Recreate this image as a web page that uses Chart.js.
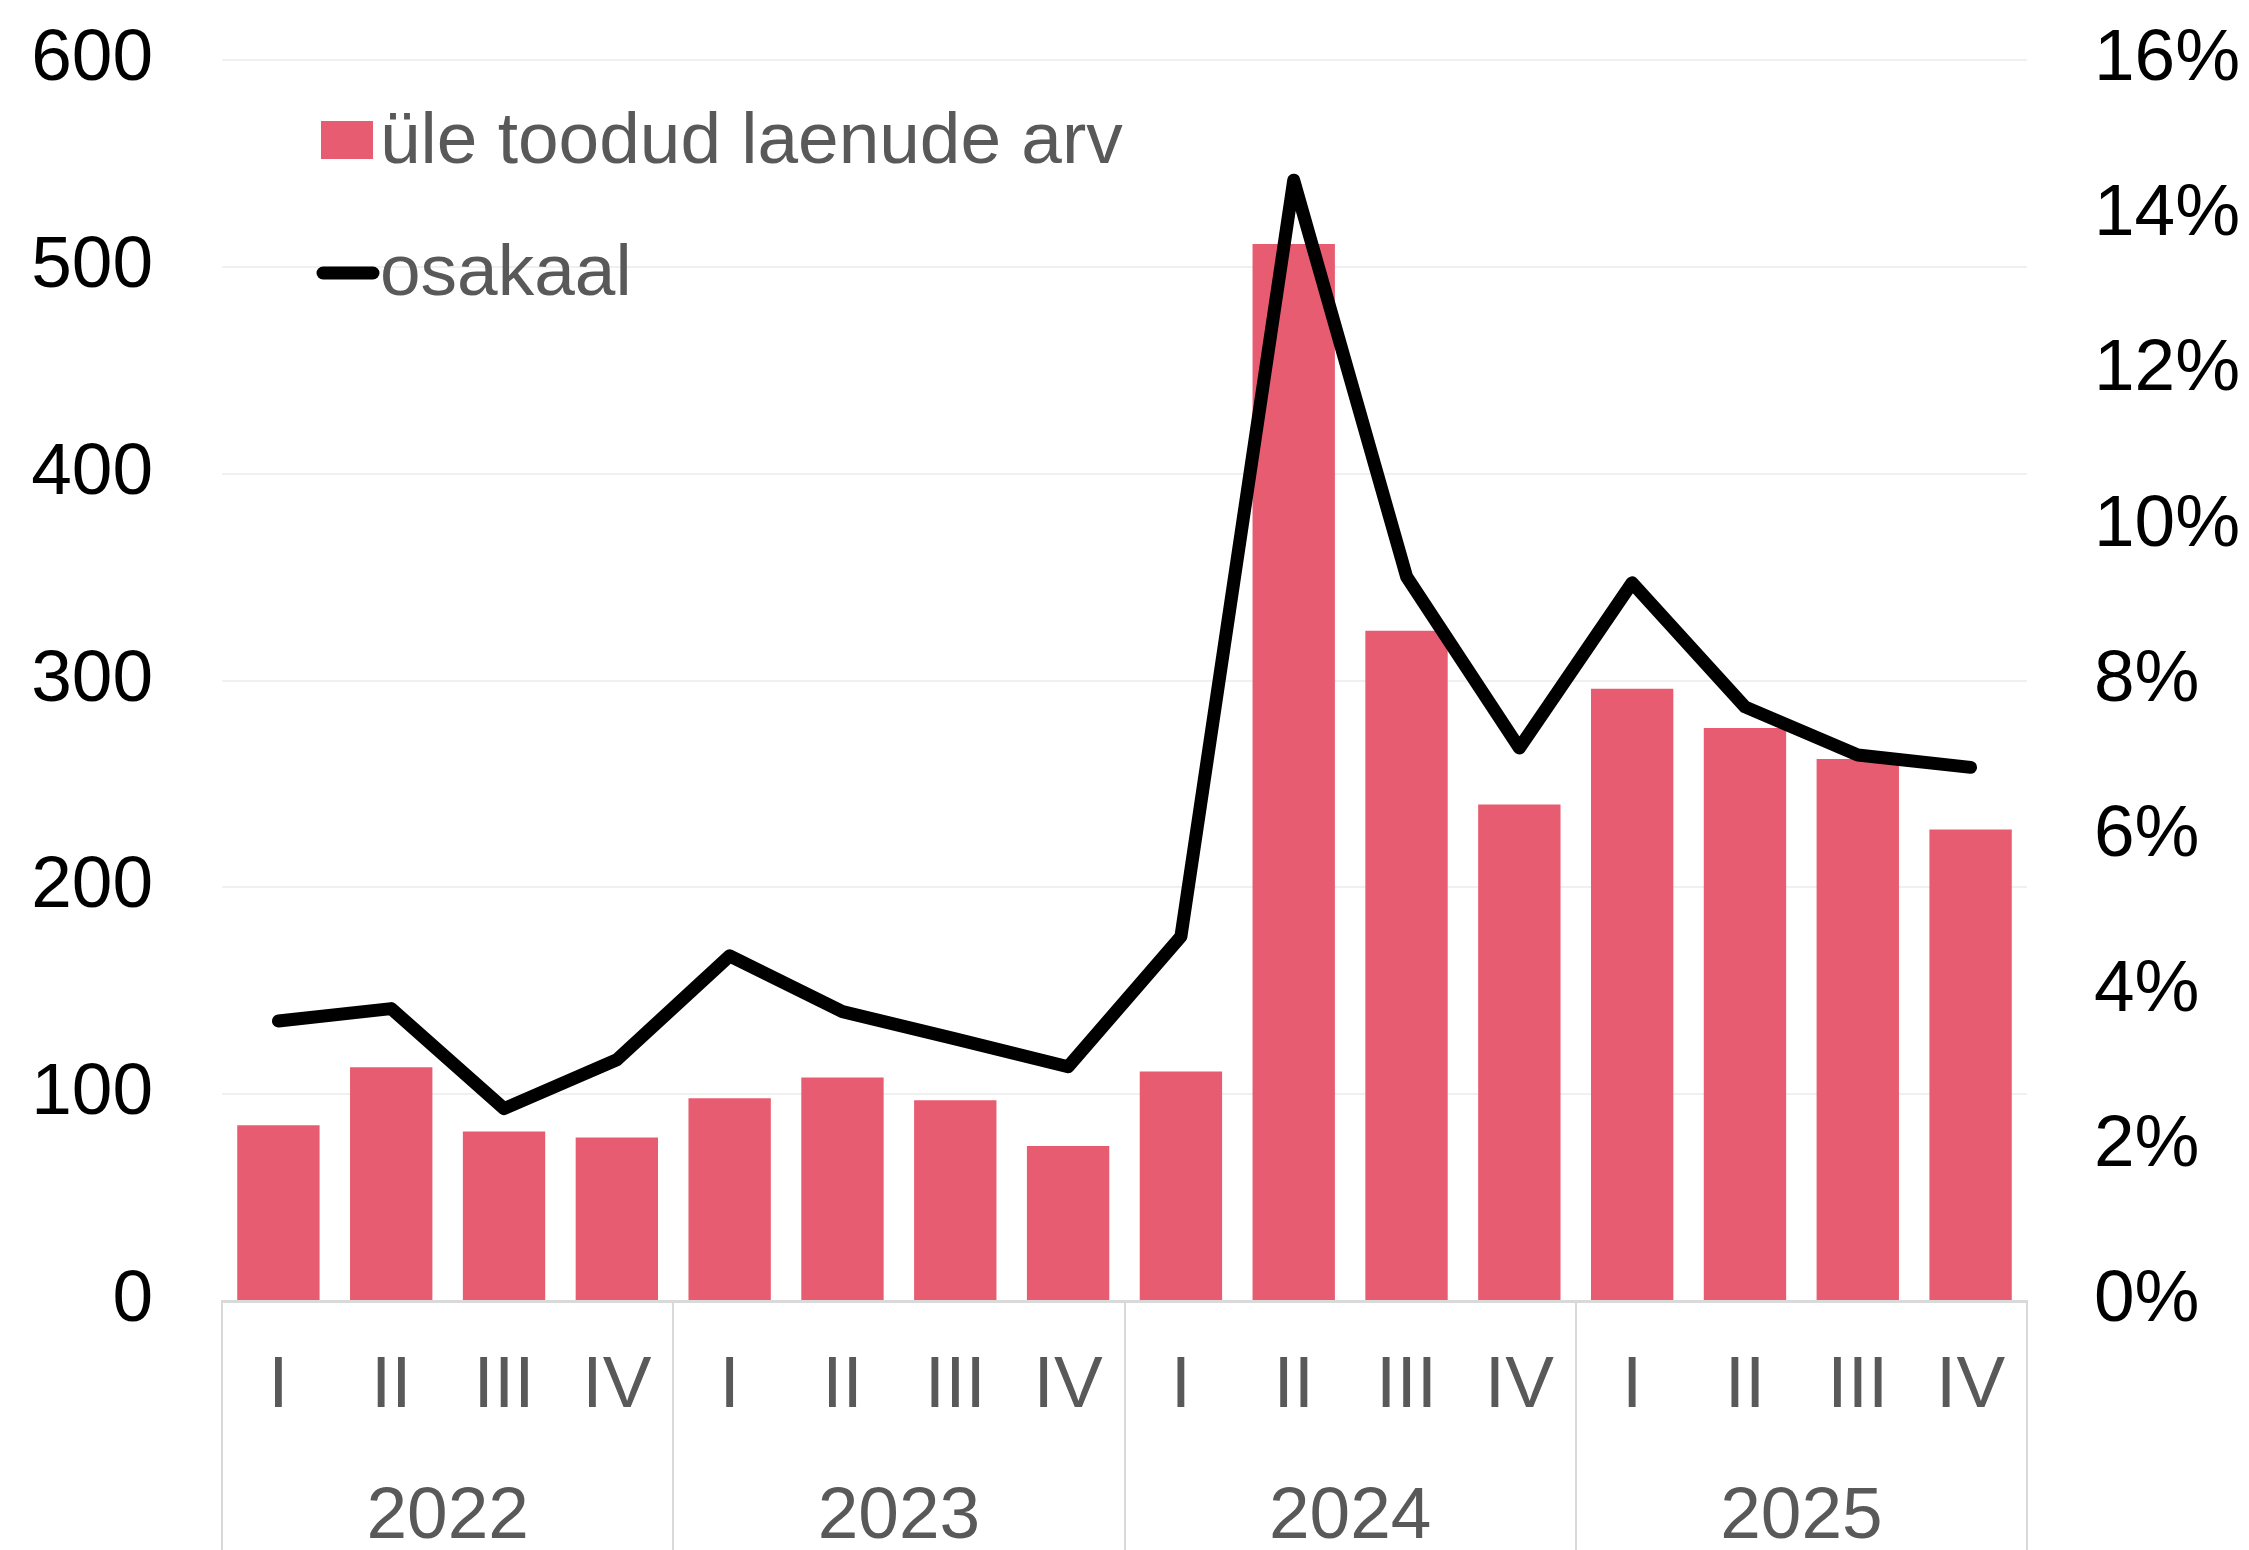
<!DOCTYPE html>
<html>
<head>
<meta charset="utf-8">
<script src="https://cdn.jsdelivr.net/npm/chart.js@4.4.1/dist/chart.umd.min.js"></script>
<style>
  html, body { margin: 0; padding: 0; background: #ffffff; }
  #wrap { width: 2249px; height: 1550px; }
</style>
</head>
<body>
<div id="wrap"><canvas id="c" width="2249" height="1550"></canvas></div>
<script>
// ---- data ----
const quarters = ['I','II','III','IV','I','II','III','IV','I','II','III','IV','I','II','III','IV'];
const years = ['2022','2023','2024','2025'];
const loanCounts = [85, 113, 82, 79, 98, 108, 97, 75, 111, 511, 324, 240, 296, 277, 262, 228];
const sharePct = [3.61, 3.77, 2.48, 3.11, 4.45, 3.73, 3.38, 3.02, 4.70, 14.45, 9.34, 7.13, 9.26, 7.66, 7.04, 6.88];
const leftTicks = { min: 0, max: 600, step: 100 };
const rightTicks = { min: 0, max: 16, step: 2 };
const seriesNames = ['üle toodud laenude arv', 'osakaal'];

const FONT = "'Liberation Sans', Arial, sans-serif";
const FSIZE = 73;
const BAR_COLOR = '#e75c70';
const GRAY_TEXT = '#595959';

const legendPlugin = {
  id: 'customLegend',
  afterDraw(chart) {
    const ctx = chart.ctx;
    const ds = chart.data.datasets;
    ctx.save();
    ctx.font = FSIZE + 'px ' + FONT;
    ctx.textBaseline = 'alphabetic';
    ctx.textAlign = 'left';
    ctx.fillStyle = ds[1].backgroundColor;
    ctx.fillRect(321, 121, 52, 38);
    ctx.fillStyle = GRAY_TEXT;
    ctx.fillText(ds[1].label, 380, 163);
    ctx.strokeStyle = ds[0].borderColor;
    ctx.lineWidth = 13;
    ctx.lineCap = 'round';
    ctx.beginPath();
    ctx.moveTo(323, 273);
    ctx.lineTo(373, 273);
    ctx.stroke();
    ctx.fillText(ds[0].label, 380, 295);
    ctx.restore();
  }
};

const separatorPlugin = {
  id: 'groupSeparators',
  afterDraw(chart) {
    const x = chart.scales.x;
    const ctx = chart.ctx;
    const half = (x.getPixelForValue(1) - x.getPixelForValue(0)) / 2;
    ctx.save();
    ctx.strokeStyle = '#d9d9d9';
    ctx.lineWidth = 2;
    for (let i = 0; i <= quarters.length; i += 4) {
      const px = i < quarters.length ? x.getPixelForValue(i) - half : x.getPixelForValue(quarters.length - 1) + half;
      ctx.beginPath();
      ctx.moveTo(Math.round(px), chart.chartArea.bottom);
      ctx.lineTo(Math.round(px), chart.height);
      ctx.stroke();
    }
    ctx.restore();
  }
};

new Chart(document.getElementById('c'), {
  data: {
    labels: quarters,
    datasets: [
      {
        type: 'line',
        label: seriesNames[1],
        data: sharePct,
        yAxisID: 'y1',
        borderColor: '#000000',
        borderWidth: 13,
        borderCapStyle: 'round',
        borderJoinStyle: 'round',
        pointRadius: 0,
        tension: 0,
        order: 1
      },
      {
        type: 'bar',
        label: seriesNames[0],
        data: loanCounts,
        yAxisID: 'y',
        backgroundColor: BAR_COLOR,
        borderWidth: 0,
        categoryPercentage: 1.0,
        barPercentage: 0.73,
        order: 2
      }
    ]
  },
  plugins: [separatorPlugin, legendPlugin],
  options: {
    responsive: false,
    animation: false,
    devicePixelRatio: 1,
    layout: { padding: { top: 60, left: 0, right: 0, bottom: 0 } },
    plugins: { legend: { display: false }, tooltip: { enabled: false } },
    scales: {
      x: {
        type: 'category',
        position: 'bottom',
        weight: 1,
        offset: true,
        grid: { display: false, drawTicks: false },
        border: { display: true, color: '#d9d9d9', width: 3 },
        ticks: { color: GRAY_TEXT, font: { family: FONT, size: FSIZE }, padding: 42, maxRotation: 0, autoSkip: false },
        afterFit(s) { s.height = 130; }
      },
      xYear: {
        type: 'category',
        position: 'bottom',
        weight: 2,
        labels: years,
        offset: true,
        grid: { display: false, drawTicks: false },
        border: { display: false },
        ticks: { color: GRAY_TEXT, font: { family: FONT, size: FSIZE }, padding: 43, maxRotation: 0, autoSkip: false },
        afterFit(s) { s.height = 119; }
      },
      y: {
        position: 'left',
        min: leftTicks.min,
        max: leftTicks.max,
        ticks: { stepSize: leftTicks.step, color: '#000000', font: { family: FONT, size: FSIZE }, padding: 69 },
        grid: { color: '#f0f0f0', lineWidth: 2, drawTicks: false },
        border: { display: false },
        afterFit(s) { s.width = 222; s.paddingTop = 0; s.paddingBottom = 0; }
      },
      y1: {
        position: 'right',
        min: rightTicks.min,
        max: rightTicks.max,
        ticks: { stepSize: rightTicks.step, color: '#000000', font: { family: FONT, size: FSIZE }, padding: 67,
                 callback: v => v + '%' },
        grid: { drawOnChartArea: false, drawTicks: false },
        border: { display: false },
        afterFit(s) { s.width = 222; s.paddingTop = 0; s.paddingBottom = 0; }
      }
    }
  }
});
</script>
</body>
</html>
